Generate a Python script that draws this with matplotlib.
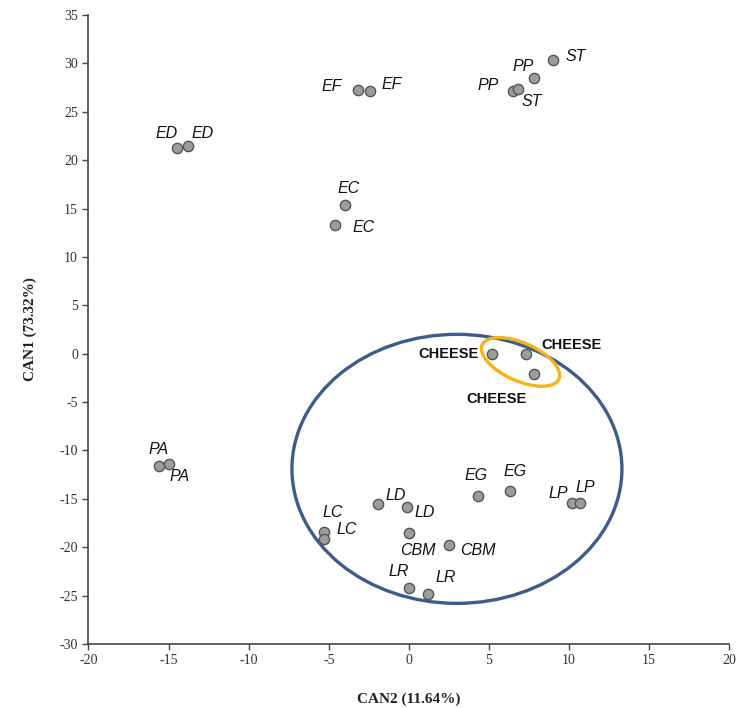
import matplotlib
matplotlib.use("Agg")
import matplotlib.pyplot as plt
from matplotlib.patches import Ellipse
from matplotlib.transforms import ScaledTranslation

plt.rcParams["axes.unicode_minus"] = False

# canonical scores
labels = ["ED", "ED", "EF", "EF", "EC", "EC",
          "PP", "PP", "ST", "ST",
          "CHEESE", "CHEESE", "CHEESE",
          "PA", "PA", "EG", "EG", "LP", "LP",
          "LD", "LD", "LC", "LC", "CBM", "CBM", "LR", "LR"]
can2 = [-14.5, -13.8, -3.2, -2.4, -4.0, -4.6,
        6.5, 7.8, 6.8, 9.0,
        5.2, 7.3, 7.8,
        -15.6, -15.0, 4.3, 6.3, 10.2, 10.7,
        -1.9, -0.1, -5.3, -5.3, 0.0, 2.5, 0.0, 1.2]
can1 = [21.3, 21.5, 27.2, 27.1, 15.4, 13.3,
        27.1, 28.5, 27.4, 30.3,
        0.0, 0.0, -2.1,
        -11.6, -11.4, -14.7, -14.2, -15.4, -15.4,
        -15.5, -15.8, -18.4, -19.1, -18.5, -19.8, -24.2, -24.8]

# label offsets in pixels (dx, dy) from each point
offsets = [(-10, 14), (15, 12), (-26, 4), (21, 7), (4, 16), (28, -3),
           (-25, 6), (-11, 11), (14, -13), (23, 4),
           (-44, 0), (46, 9), (-37, -25),
           (0, 16), (11, -12), (-2, 20), (5, 20), (-14, 9), (5, 15),
           (17, 8), (17, -6), (9, 19), (23, 9), (9, -18), (29, -5), (-10, 16), (18, 16)]

BLUE = "#3E5C8A"
GOLD = "#F5B21A"
INK = "#222222"

fig = plt.figure(figsize=(7.43, 7.08), dpi=100)
ax = fig.add_axes([0.1191, 0.0904, 0.8624, 0.8884])

ax.scatter(can2, can1, s=55, c="#9C9C9C", edgecolors="#555555", linewidths=1.0, zorder=4)

for lab, x, y, (dx, dy) in zip(labels, can2, can1, offsets):
    if lab == "CHEESE":
        ax.annotate(lab, (x, y), xytext=(dx, dy), textcoords="offset pixels",
                    ha="center", va="center", fontsize=10.5, fontweight="bold",
                    family="Liberation Sans", color="#111111", zorder=5)
    else:
        ax.annotate(lab, (x, y), xytext=(dx, dy), textcoords="offset pixels",
                    ha="center", va="center", fontsize=11.5, style="italic",
                    family="Liberation Sans", color="#111111", zorder=5)

# big group ellipse (data units)
ax.add_patch(Ellipse((3.0, -11.9), 20.6, 27.8, fill=False, ec=BLUE, lw=2.4, zorder=3))
# cheese ellipse, sized in inches so the tilt looks right on screen
ax.add_patch(Ellipse((0, 0), 0.84, 0.38, angle=-24, fill=False, ec=GOLD, lw=2.4, zorder=3,
                     transform=fig.dpi_scale_trans + ScaledTranslation(6.97, -0.85, ax.transData)))

ax.set_xlim(-20, 20)
ax.set_ylim(-30, 35)
ax.set_xticks(range(-20, 21, 5))
ax.set_yticks(range(-30, 36, 5))
for s in ("top", "right"):
    ax.spines[s].set_visible(False)
for s in ("left", "bottom"):
    ax.spines[s].set_color("#444444")
    ax.spines[s].set_linewidth(1.2)
ax.tick_params(direction="out", length=4, width=1, color="#444444",
               labelsize=10, labelcolor="#333333")
for t in ax.get_xticklabels() + ax.get_yticklabels():
    t.set_family("Liberation Serif")

ax.set_xlabel("CAN2 (11.64%)", family="Liberation Serif", fontweight="bold",
              fontsize=11, color=INK, labelpad=18)
ax.set_ylabel("CAN1 (73.32%)", family="Liberation Serif", fontweight="bold",
              fontsize=11, color=INK, labelpad=16)

fig.savefig("out.png", dpi=100, facecolor="white")
